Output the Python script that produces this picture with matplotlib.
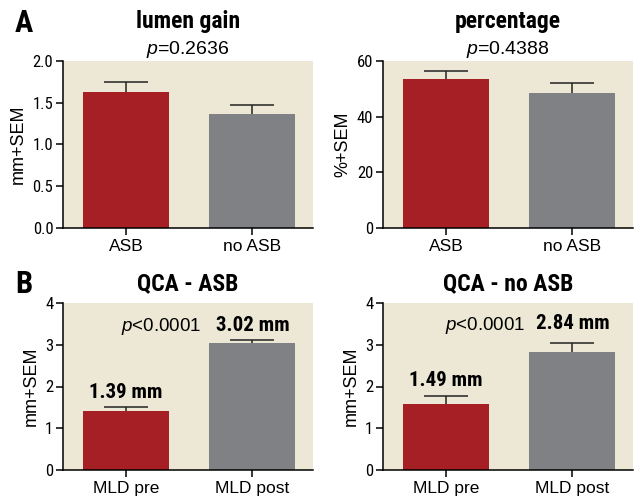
import matplotlib
matplotlib.use("Agg")
import matplotlib.pyplot as plt

plt.rcParams['font.family'] = ['Liberation Sans', 'DejaVu Sans']
plt.rcParams['mathtext.fontset'] = 'custom'
plt.rcParams['mathtext.it'] = 'Liberation Sans:italic'
plt.rcParams['mathtext.rm'] = 'Liberation Sans'
NARROW = ['Roboto Condensed', 'DejaVu Sans']

RED = '#a51f24'
GRAY = '#808184'
BG = '#ece8d5'

# panel A
groups_a = ['ASB', 'no ASB']
lumen_gain = [1.63, 1.37]
lumen_gain_sem = [0.12, 0.10]
percentage = [53.5, 48.5]
percentage_sem = [2.9, 3.7]

# panel B
groups_b = ['MLD pre', 'MLD post']
qca_asb = [1.41, 3.04]
qca_asb_sem = [0.09, 0.08]
qca_noasb = [1.58, 2.82]
qca_noasb_sem = [0.20, 0.23]
labels_asb = ['1.39 mm', '3.02 mm']
labels_noasb = ['1.49 mm', '2.84 mm']

fig = plt.figure(figsize=(6.35, 4.98), dpi=100)

W, H = 250 / 635, 167 / 498
pos = {
    'a1': [63 / 635, 1 - 228 / 498, W, H],
    'a2': [383 / 635, 1 - 228 / 498, W, H],
    'b1': [63 / 635, 1 - 470 / 498, W, H],
    'b2': [383 / 635, 1 - 470 / 498, W, H],
}


def bar_panel(rect, cats, vals, sems, ylim, yticks, yticklabels, ylabel):
    ax = fig.add_axes(rect)
    ax.set_facecolor(BG)
    x = list(range(len(cats)))
    ax.bar(x, vals, width=0.68, color=[RED, GRAY], zorder=2)
    # symmetric bars drawn behind the columns, so only the upper half shows
    ax.errorbar(x, vals, yerr=sems, fmt='none',
                ecolor='#222222', elinewidth=1.1, capsize=15.5, capthick=1.1, zorder=1)
    ax.set_xlim(-0.5, 1.48)
    ax.set_ylim(*ylim)
    ax.set_yticks(yticks)
    ax.set_yticklabels(yticklabels, family=NARROW, fontsize=12)
    ax.set_xticks(x)
    ax.set_xticklabels(cats, fontsize=12.5)
    ax.set_ylabel(ylabel, fontsize=13, labelpad=4)
    for s in ['top', 'right']:
        ax.spines[s].set_visible(False)
    for s in ['left', 'bottom']:
        ax.spines[s].set_linewidth(1.1)
        ax.spines[s].set_zorder(3)
    ax.tick_params(direction='out', length=5, width=1.1, pad=2)
    ax.tick_params(axis='x', pad=3)
    return ax


ax1 = bar_panel(pos['a1'], groups_a, lumen_gain, lumen_gain_sem, (0, 2.0),
                [0, 0.5, 1.0, 1.5, 2.0], ['0.0', '0.5', '1.0', '1.5', '2.0'], 'mm+SEM')
ax1.text(0.5, 1.235, 'lumen gain', transform=ax1.transAxes, ha='center', va='center',
         family=NARROW, fontweight='bold', fontsize=17)
ax1.text(0.5, 1.07, r'$\it{p}$=0.2636', transform=ax1.transAxes, ha='center', va='center', fontsize=14)

ax2 = bar_panel(pos['a2'], groups_a, percentage, percentage_sem, (0, 60),
                [0, 20, 40, 60], ['0', '20', '40', '60'], '%+SEM')
ax2.text(0.5, 1.235, 'percentage', transform=ax2.transAxes, ha='center', va='center',
         family=NARROW, fontweight='bold', fontsize=17)
ax2.text(0.5, 1.07, r'$\it{p}$=0.4388', transform=ax2.transAxes, ha='center', va='center', fontsize=14)

ax3 = bar_panel(pos['b1'], groups_b, qca_asb, qca_asb_sem, (0, 4),
                [0, 1, 2, 3, 4], ['0', '1', '2', '3', '4'], 'mm+SEM')
ax3.text(0.5, 1.115, 'QCA - ASB', transform=ax3.transAxes, ha='center', va='center',
         family=NARROW, fontweight='bold', fontsize=17)
ax3.text(0.28, 3.43, r'$\it{p}$<0.0001', ha='center', va='center', fontsize=13.5)
for i, (v, s, lab) in enumerate(zip(qca_asb, qca_asb_sem, labels_asb)):
    ax3.text(i, v + s + 0.35, lab, ha='center', va='center', family=NARROW,
             fontweight='bold', fontsize=15)

ax4 = bar_panel(pos['b2'], groups_b, qca_noasb, qca_noasb_sem, (0, 4),
                [0, 1, 2, 3, 4], ['0', '1', '2', '3', '4'], 'mm+SEM')
ax4.text(0.5, 1.115, 'QCA - no ASB', transform=ax4.transAxes, ha='center', va='center',
         family=NARROW, fontweight='bold', fontsize=17)
ax4.text(0.31, 3.46, r'$\it{p}$<0.0001', ha='center', va='center', fontsize=13.5)
for i, (v, s, lab) in enumerate(zip(qca_noasb, qca_noasb_sem, labels_noasb)):
    ax4.text(i, v + s + 0.36 if i == 0 else v + s + 0.47, lab, ha='center', va='center',
             family=NARROW, fontweight='bold', fontsize=15)

fig.text(15 / 635, 1 - 23 / 498, 'A', family=NARROW, fontweight='bold', fontsize=22,
         ha='left', va='center')
fig.text(15 / 635, 1 - 284 / 498, 'B', family=NARROW, fontweight='bold', fontsize=22,
         ha='left', va='center')

fig.savefig('out.png', dpi=100, facecolor='white')
